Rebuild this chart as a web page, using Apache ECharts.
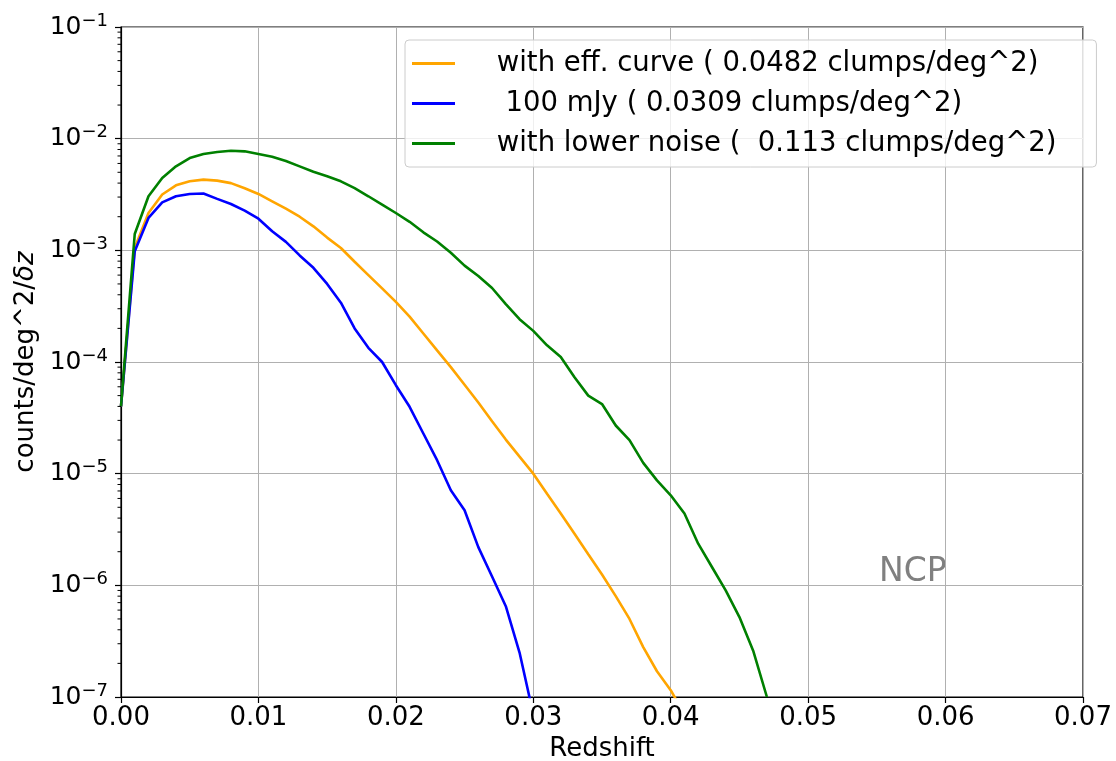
<!DOCTYPE html>
<html>
<head>
<meta charset="utf-8">
<script src="https://cdn.jsdelivr.net/npm/echarts@6/dist/echarts.min.js"></script>
<style>
html,body{margin:0;padding:0;background:#fff;}
#chart{width:1116px;height:761px;}
</style>
</head>
<body>
<div id="chart"></div>
<script>
const redshift = [0.000,0.001,0.002,0.003,0.004,0.005,0.006,0.007,0.008,0.009,
  0.010,0.011,0.012,0.013,0.014,0.015,0.016,0.017,0.018,0.019,
  0.020,0.021,0.022,0.023,0.024,0.025,0.026,0.027,0.028,0.029,
  0.030,0.031,0.032,0.033,0.034,0.035,0.036,0.037,0.038,0.039,
  0.040,0.041,0.042,0.043,0.044,0.045,0.046,0.047];

const effCurve = [4e-5,1.05e-3,2.16e-3,3.16e-3,3.82e-3,4.15e-3,4.3e-3,4.21e-3,4.0e-3,3.6e-3,
  3.2e-3,2.75e-3,2.36e-3,2.0e-3,1.64e-3,1.30e-3,1.05e-3,7.9e-4,6.0e-4,4.56e-4,
  3.45e-4,2.55e-4,1.8e-4,1.27e-4,9.0e-5,6.25e-5,4.34e-5,2.95e-5,2.02e-5,1.42e-5,
  1.0e-5,6.6e-6,4.4e-6,2.9e-6,1.9e-6,1.25e-6,8.0e-7,5.0e-7,2.8e-7,1.7e-7,
  1.15e-7,7e-8];

const mJy100 = [4e-5,9.8e-4,1.95e-3,2.69e-3,3.05e-3,3.2e-3,3.23e-3,2.89e-3,2.6e-3,2.27e-3,
  1.92e-3,1.48e-3,1.19e-3,9.0e-4,6.97e-4,5.0e-4,3.4e-4,2.0e-4,1.34e-4,1.0e-4,
  6.2e-5,3.97e-5,2.29e-5,1.32e-5,7.1e-6,4.7e-6,2.2e-6,1.2e-6,6.5e-7,2.5e-7,
  7e-8];

const lowerNoise = [4e-5,1.4e-3,3.05e-3,4.44e-3,5.65e-3,6.7e-3,7.28e-3,7.59e-3,7.8e-3,7.7e-3,
  7.3e-3,6.9e-3,6.3e-3,5.65e-3,5.05e-3,4.6e-3,4.15e-3,3.6e-3,3.05e-3,2.57e-3,
  2.16e-3,1.8e-3,1.45e-3,1.2e-3,9.5e-4,7.3e-4,5.9e-4,4.6e-4,3.3e-4,2.42e-4,
  1.9e-4,1.41e-4,1.11e-4,7.3e-5,5.0e-5,4.2e-5,2.7e-5,2.0e-5,1.25e-5,8.7e-6,
  6.4e-6,4.4e-6,2.36e-6,1.46e-6,9.0e-7,5.2e-7,2.6e-7,1.0e-7];

const seriesNames = [
  ' with eff. curve ( 0.0482 clumps/deg^2)',
  '  100 mJy ( 0.0309 clumps/deg^2)',
  ' with lower noise (  0.113 clumps/deg^2)'
];
const xTicks = [0, 0.07, 0.01];      // min, max, step
const yDecades = [-7, -1];           // log10 range
const annotation = 'NCP';

function pairs(vals){ return vals.map((v,i)=>[redshift[i], v]); }

// minor tick positions on log axis (2..9 x 10^k)
const minorTicks = [];
for (let e = yDecades[0]; e < yDecades[1]; e++) {
  for (let m = 2; m <= 9; m++) minorTicks.push([0, m * Math.pow(10, e)]);
}

const FONT = 'DejaVu Sans';
const chart = echarts.init(document.getElementById('chart'), null, {renderer:'canvas'});
const colors = ['#FFA500','#0000FF','#008000'];

const option = {
  backgroundColor:'#ffffff',
  animation:false,
  textStyle:{fontFamily:FONT},
  grid:{left:121, right:33, top:27, bottom:64, containLabel:false, outerBoundsMode:'none',
    show:true, borderColor:'#000', borderWidth:1.2, backgroundColor:'transparent'},
  legend:{
    orient:'vertical', left:405, top:40,
    data:seriesNames,
    icon:'rect', itemWidth:43, itemHeight:3, itemGap:11,
    padding:[9,40,9,7],
    backgroundColor:'rgba(255,255,255,0.8)',
    borderColor:'#cccccc', borderWidth:1, borderRadius:4,
    textStyle:{fontFamily:FONT, fontSize:27.5, color:'#000', lineHeight:29, padding:[0,0,0,28]}
  },
  xAxis:{
    type:'value', min:xTicks[0], max:xTicks[1], interval:xTicks[2],
    name:'Redshift', nameLocation:'middle', nameGap:33,
    nameTextStyle:{fontFamily:FONT, fontSize:26, color:'#000'},
    axisLine:{show:true, onZero:false, lineStyle:{color:'#000', width:1.2}},
    axisTick:{show:true, length:6, lineStyle:{color:'#000', width:1.2}},
    axisLabel:{fontFamily:FONT, fontSize:26, color:'#000', margin:8,
      formatter:v=>v.toFixed(2)},
    splitLine:{show:true, lineStyle:{color:'#b0b0b0', width:1}}
  },
  yAxis:{
    type:'log', logBase:10, min:Math.pow(10,yDecades[0]), max:Math.pow(10,yDecades[1]),
    name:'counts/deg^2/{i|δz}', nameLocation:'middle', nameGap:78, nameRotate:90,
    nameTextStyle:{fontFamily:FONT, fontSize:26, color:'#000',
      rich:{i:{fontFamily:FONT, fontSize:26, fontStyle:'italic', color:'#000'}}},
    axisLine:{show:true, lineStyle:{color:'#000', width:1.2}},
    axisTick:{show:true, length:6, lineStyle:{color:'#000', width:1.2}},
    axisLabel:{margin:13,
      formatter:v=>{ const e=Math.round(Math.log10(v)); return '{b|10}{s|\u2212'+Math.abs(e)+'}'; },
      rich:{
        b:{fontFamily:FONT, fontSize:25, color:'#000'},
        s:{fontFamily:FONT, fontSize:18, color:'#000', padding:[0,0,12,0]}
      }},
    splitLine:{show:true, lineStyle:{color:'#b0b0b0', width:1}}
  },
  series:[
    {name:seriesNames[0], type:'line', data:pairs(effCurve), symbol:'none', color:colors[0],
     lineStyle:{width:2.6, color:colors[0]}, clip:true, z:3},
    {name:seriesNames[1], type:'line', data:pairs(mJy100), symbol:'none', color:colors[1],
     lineStyle:{width:2.6, color:colors[1]}, clip:true, z:3},
    {name:seriesNames[2], type:'line', data:pairs(lowerNoise), symbol:'none', color:colors[2],
     lineStyle:{width:2.6, color:colors[2]}, clip:true, z:3},
    {name:'minor', type:'custom', data:minorTicks, silent:true, clip:false, z:4,
     renderItem:(params, api)=>{
       const p = api.coord([api.value(0), api.value(1)]);
       return {type:'line', shape:{x1:p[0]-3.5, y1:p[1], x2:p[0], y2:p[1]},
         style:{stroke:'#000', lineWidth:1}};
     }}
  ],
  graphic:[
    {type:'text', left:879, top:556, style:{text:annotation, font:'33px "DejaVu Sans"', fill:'#808080'}}
  ]
};
chart.setOption(option);
</script>
</body>
</html>
